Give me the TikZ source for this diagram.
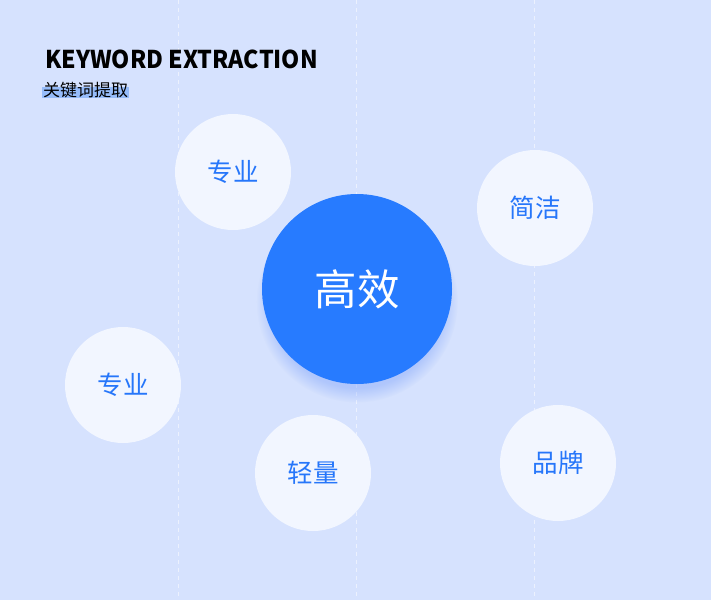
\documentclass[tikz,border=0pt]{standalone}
\usepackage{fontspec}
\usetikzlibrary{shadows}
\newfontfamily\cjk{Noto Sans CJK SC}
\definecolor{bgblue}{RGB}{214,226,254}
\definecolor{paleball}{RGB}{242,246,255}
\definecolor{coreblue}{RGB}{39,123,255}
\definecolor{keyblue}{RGB}{38,118,250}
\definecolor{markblue}{RGB}{150,188,250}
\definecolor{glowblue}{RGB}{120,158,250}
\tikzset{
  wordball/.style={circle,fill=paleball,minimum size=116pt,inner sep=0pt,
    font=\cjk\fontsize{25.5}{25.5}\selectfont,text=keyblue},
  coreball/.style={circle,fill=coreblue,minimum size=190pt,inner sep=0pt,
    font=\cjk\fontsize{42.5}{42.5}\selectfont,text=white,
    circular drop shadow={shadow xshift=0pt,shadow yshift=-12pt,shadow scale=1.06,fill=glowblue,opacity=.4}},
  guide/.style={draw=white,opacity=.55,line width=1pt,dash pattern=on 4pt off 4pt},
  titletext/.style={font=\cjk\bfseries\fontsize{24.5}{24.5}\selectfont,text=black,inner sep=0pt,
    anchor=base west,xscale=.945},
  subtext/.style={font=\cjk\fontsize{17}{17}\selectfont,text=black,inner sep=0pt,anchor=base west}
}
\begin{document}
\begin{tikzpicture}[x=1pt,y=-1pt]
  \fill[bgblue] (0,0) rectangle (711,600);
  \useasboundingbox (0,0) rectangle (711,600);
  % vertical guides
  \foreach \gx in {178,356,534}
    \draw[guide] (\gx,0) -- (\gx,600);

  % title block
  \fill[markblue] (42,87) rectangle (129,98);
  \node[titletext] (title) at (45,68) {KEYWORD EXTRACTION};
  \node[subtext] (subtitle) at (43,96) {关键词提取};

  % keyword balls
  \node[wordball] (zhuanye1) at (233,172) {专业};
  \node[wordball] (jianjie) at (535,208) {简洁};
  \node[wordball] (zhuanye2) at (123,385) {专业};
  \node[wordball] (qingliang) at (313,473) {轻量};
  \node[wordball] (pinpai) at (558,463) {品牌};
  \node[coreball] (gaoxiao) at (357,289) {高效};
\end{tikzpicture}
\end{document}
